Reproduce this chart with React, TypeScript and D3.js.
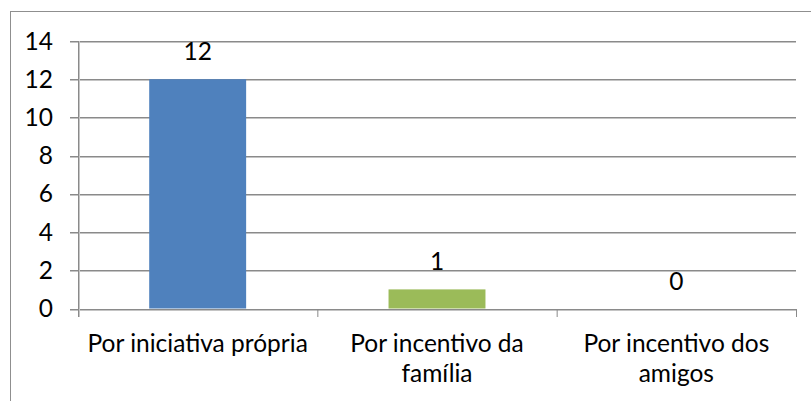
import React from "react";
import * as d3 from "d3";

const categories = ["Por iniciativa própria", "Por incentivo da família", "Por incentivo dos amigos"];
const values = [12, 1, 0];
const barColors = ["#4F81BD", "#9BBB59", "#C0504D"];
const yTicks = [0, 2, 4, 6, 8, 10, 12, 14];

const W = 811;
const H = 401;
const FONT = "Lato, 'Open Sans', sans-serif";
const FS = 24.5;

function wrap(text: string, maxW: number): string[] {
  const ctx = document.createElement("canvas").getContext("2d")!;
  ctx.font = `${FS}px Lato`;
  const words = text.split(" ");
  const lines: string[] = [];
  let cur = "";
  for (const w of words) {
    const t = cur ? cur + " " + w : w;
    if (ctx.measureText(t).width > maxW && cur) {
      lines.push(cur);
      cur = w;
    } else cur = t;
  }
  if (cur) lines.push(cur);
  return lines;
}

export default function App() {
  const x = d3.scaleBand<string>().domain(categories).range([78, 796]).padding(0);
  const y = d3.scaleLinear().domain([0, 14]).range([308.5, 41]);
  const bw = x.bandwidth() * 0.405;
  const grid = "#8a8a8a";
  const shade = "#c4c4c4";
  const boundaries = [...categories.map((c) => x(c)!), 796];

  return (
    <svg width={W} height={H} style={{ position: "absolute", left: 0, top: 0, background: "#fff" }}>
      <rect x={10.5} y={11.5} width={W} height={H} fill="#fff" stroke="#8f8f8f" strokeWidth={1} />
      {yTicks.map((t) => (
        <g key={t}>
          <line x1={70} x2={796} y1={Math.round(y(t)) + 0.5} y2={Math.round(y(t)) + 0.5} stroke={grid} />
          <line x1={70} x2={796} y1={Math.round(y(t)) + 1.5} y2={Math.round(y(t)) + 1.5} stroke={shade} />
          <text x={53} y={y(t)} dy="0.35em" textAnchor="end" fontFamily={FONT} fontSize={FS} fill="#000">
            {t}
          </text>
        </g>
      ))}
      {categories.map((c, i) => (
        <rect
          key={c}
          x={x(c)! + (x.bandwidth() - bw) / 2}
          y={y(values[i])}
          width={bw}
          height={y(0) - y(values[i])}
          fill={barColors[i]}
        />
      ))}
      <line x1={78.5} x2={78.5} y1={41} y2={317} stroke={grid} />
      <line x1={79.5} x2={79.5} y1={41} y2={317} stroke={shade} />
      {boundaries.map((b, i) => (
        <line key={i} x1={b + 0.5} x2={b + 0.5} y1={309} y2={317} stroke={grid} />
      ))}
      {categories.map((c, i) => (
        <text
          key={c}
          x={x(c)! + x.bandwidth() / 2}
          y={y(values[i]) - 19}
          textAnchor="middle"
          fontFamily={FONT}
          fontSize={FS}
          fill="#000"
        >
          {values[i]}
        </text>
      ))}
      {categories.map((c) => {
        const lines = wrap(c, x.bandwidth() - 8);
        return (
          <text key={c} textAnchor="middle" fontFamily={FONT} fontSize={FS} fill="#000">
            {lines.map((l, j) => (
              <tspan key={j} x={x(c)! + x.bandwidth() / 2} y={352 + j * 30}>
                {l}
              </tspan>
            ))}
          </text>
        );
      })}
    </svg>
  );
}
